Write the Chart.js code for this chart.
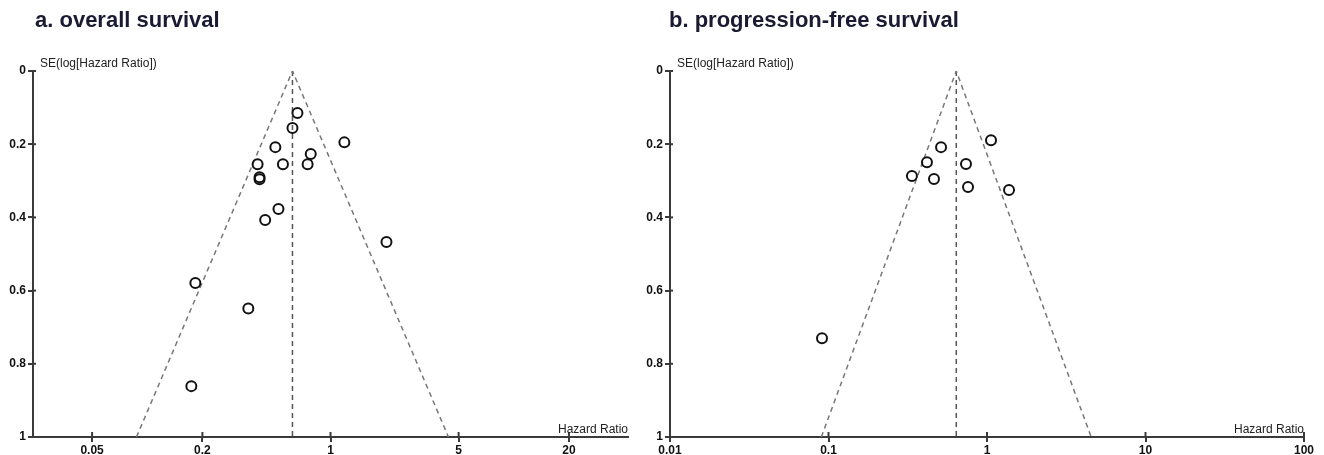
<!DOCTYPE html>
<html>
<head>
<meta charset="utf-8">
<script src="https://cdn.jsdelivr.net/npm/chart.js@4.4.1/dist/chart.umd.min.js"></script>
<style>
  body { margin: 0; background: #fff; width: 1324px; height: 455px; position: relative; overflow: hidden;
         font-family: "Liberation Sans", Arial, sans-serif; }
  .title { position: absolute; top: 8px; font-weight: bold; font-size: 22px; line-height: 24px; color: #1a1a33; z-index: 2; }
  .panel { position: absolute; top: 0; height: 455px; }
</style>
</head>
<body>
<div class="title" style="left:35px">a. overall survival</div>
<div class="title" style="left:669px">b. progression-free survival</div>
<div class="panel" style="left:0;width:662px"><canvas id="osChart" width="662" height="455"></canvas></div>
<div class="panel" style="left:634px;width:690px"><canvas id="pfsChart" width="690" height="455"></canvas></div>
<script>
// a. overall survival
const osHR = [0.66, 0.62, 1.19, 0.50, 0.78, 0.40, 0.55, 0.75, 0.41, 0.41, 0.52, 0.44, 2.02, 0.183, 0.356, 0.174];
const osSE = [0.115, 0.156, 0.195, 0.208, 0.227, 0.255, 0.255, 0.255, 0.29, 0.296, 0.377, 0.407, 0.467, 0.579, 0.649, 0.861];
const osPooled = 0.62;
const osTicks = [0.05, 0.2, 1, 5, 20];

// b. progression-free survival
const pfsHR = [1.06, 0.513, 0.418, 0.737, 0.336, 0.463, 0.759, 1.377, 0.091];
const pfsSE = [0.189, 0.208, 0.249, 0.254, 0.287, 0.295, 0.317, 0.325, 0.73];
const pfsPooled = 0.64;
const pfsTicks = [0.01, 0.1, 1, 10, 100];

const seTicks = [0, 0.2, 0.4, 0.6, 0.8, 1];

const AXIS_COLOR = "#3a3a3a";
const DASH_COLOR = "#777";
const LABEL_FONT = { family: '"Liberation Sans", Arial, sans-serif', size: 12, weight: "bold" };

function funnelLine(pooled) {
  const c = Math.log10(pooled);
  const half = 1.96 / Math.LN10;
  const seMax = seTicks[seTicks.length - 1];
  return [
    { x: Math.pow(10, c - half * seMax), y: seMax },
    { x: pooled, y: 0 },
    { x: Math.pow(10, c + half * seMax), y: seMax },
  ];
}

const funnelDecor = {
  id: "funnelDecor",
  afterDraw(chart) {
    const { ctx, chartArea, scales } = chart;
    ctx.save();
    // ticks cross the axes, draw the inner part
    ctx.strokeStyle = AXIS_COLOR;
    ctx.lineWidth = 2;
    scales.x.ticks.forEach((t) => {
      const px = scales.x.getPixelForValue(t.value);
      ctx.beginPath();
      ctx.moveTo(px, chartArea.bottom);
      ctx.lineTo(px, chartArea.bottom - 5);
      ctx.stroke();
    });
    scales.y.ticks.forEach((t) => {
      const py = scales.y.getPixelForValue(t.value);
      ctx.beginPath();
      ctx.moveTo(chartArea.left, py);
      ctx.lineTo(chartArea.left + 3, py);
      ctx.stroke();
    });
    ctx.font = '12px "Liberation Sans", Arial, sans-serif';
    ctx.fillStyle = "#222";
    ctx.textAlign = "left";
    ctx.fillText("SE(log[Hazard Ratio])", chartArea.left + 7, chartArea.top - 4);
    ctx.textAlign = "right";
    ctx.fillText("Hazard Ratio", chartArea.right, chartArea.bottom - 4);
    ctx.restore();
  },
};

function makeFunnelChart(id, hr, se, pooled, xTicks, xMin, xMax, yAxisWidth, padRight) {
  const ctx = document.getElementById(id);
  const seMax = seTicks[seTicks.length - 1];

  return new Chart(ctx, {
    type: "scatter",
    data: {
      datasets: [
        {
          label: "studies",
          data: hr.map((v, i) => ({ x: v, y: se[i] })),
          pointStyle: "circle",
          pointRadius: 5,
          pointBorderWidth: 2,
          pointBorderColor: "#111",
          pointBackgroundColor: "rgba(255,255,255,0)",
          showLine: false,
        },
        {
          label: "funnel",
          data: funnelLine(pooled),
          showLine: true,
          pointRadius: 0,
          borderColor: DASH_COLOR,
          borderWidth: 1.5,
          borderDash: [5, 4],
        },
        {
          label: "pooled",
          data: [{ x: pooled, y: 0 }, { x: pooled, y: seMax }],
          showLine: true,
          pointRadius: 0,
          borderColor: "#555",
          borderWidth: 1.5,
          borderDash: [5, 4],
        },
      ],
    },
    options: {
      responsive: false,
      animation: false,
      devicePixelRatio: 1,
      layout: { padding: { top: 71, right: padRight, left: 0, bottom: 0 } },
      plugins: {
        legend: { display: false },
        tooltip: { enabled: false },
      },
      scales: {
        x: {
          type: "logarithmic",
          min: xMin,
          max: xMax,
          bounds: "data",
          afterBuildTicks: (scale) => {
            scale.ticks = xTicks.map((v) => ({ value: v }));
          },
          afterFit: (scale) => {
            scale.height = 18;
          },
          ticks: {
            autoSkip: false,
            maxRotation: 0,
            padding: 1,
            color: "#111",
            font: LABEL_FONT,
            callback: (v) => String(v),
          },
          grid: { drawOnChartArea: false, tickLength: 5, color: AXIS_COLOR, lineWidth: 2 },
          border: { color: AXIS_COLOR, width: 2 },
        },
        y: {
          type: "linear",
          reverse: true,
          min: 0,
          max: seMax,
          afterBuildTicks: (scale) => {
            scale.ticks = seTicks.map((v) => ({ value: v }));
          },
          afterFit: (scale) => {
            scale.width = yAxisWidth;
          },
          ticks: {
            padding: 2,
            color: "#111",
            font: LABEL_FONT,
            callback: (v) => String(+v.toFixed(1)),
          },
          grid: { drawOnChartArea: false, tickLength: 5, color: AXIS_COLOR, lineWidth: 2 },
          border: { color: AXIS_COLOR, width: 2 },
        },
      },
    },
    plugins: [funnelDecor],
  });
}

makeFunnelChart("osChart", osHR, osSE, osPooled, osTicks, 0.0238, 42, 33, 34);
makeFunnelChart("pfsChart", pfsHR, pfsSE, pfsPooled, pfsTicks, 0.01, 100, 36, 20);
</script>
</body>
</html>
